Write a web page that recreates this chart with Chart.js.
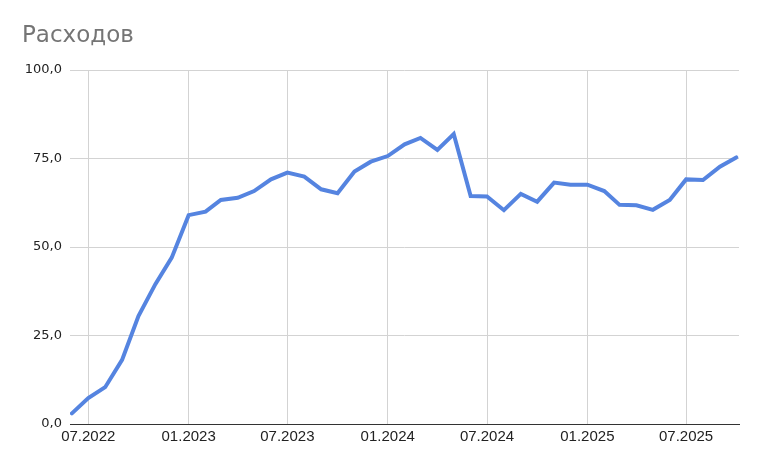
<!DOCTYPE html>
<html>
<head>
<meta charset="utf-8">
<script src="https://cdn.jsdelivr.net/npm/chart.js@4.4.1/dist/chart.umd.min.js"></script>
<style>
  html, body { margin: 0; padding: 0; background: #fff; }
  #c { display: block; }
</style>
</head>
<body>
<canvas id="c" width="758" height="453"></canvas>
<script>
const chartTitle = "Расходов";
const months = [
  "06.2022","07.2022","08.2022","09.2022","10.2022","11.2022","12.2022",
  "01.2023","02.2023","03.2023","04.2023","05.2023","06.2023","07.2023","08.2023","09.2023","10.2023","11.2023","12.2023",
  "01.2024","02.2024","03.2024","04.2024","05.2024","06.2024","07.2024","08.2024","09.2024","10.2024","11.2024","12.2024",
  "01.2025","02.2025","03.2025","04.2025","05.2025","06.2025","07.2025","08.2025","09.2025","10.2025"
];
const expenses = [
  3.0, 7.3, 10.4, 18.1, 30.5, 39.5, 47.0,
  59.0, 60.0, 63.3, 63.9, 65.8, 69.1, 71.0, 69.9, 66.3, 65.2, 71.3, 74.1,
  75.7, 79.0, 80.8, 77.4, 81.9, 64.4, 64.3, 60.4, 65.0, 62.8, 68.2, 67.6,
  67.6, 65.8, 61.9, 61.8, 60.5, 63.3, 69.1, 68.9, 72.7, 75.3
];
const xTickLabels = ["07.2022","01.2023","07.2023","01.2024","07.2024","01.2025","07.2025"];
const yTicks = [0, 25, 50, 75, 100];

const FONT = '"DejaVu Sans", Verdana, sans-serif';
const XFONT = '"Liberation Sans", Arial, sans-serif';
const startMs = Date.UTC(2022, 5, 1);
function dayOf(label) {
  const parts = label.split(".");
  return (Date.UTC(+parts[1], +parts[0] - 1, 1) - startMs) / 86400000;
}
const points = months.map((m, i) => ({ x: dayOf(m), y: expenses[i] }));

const titlePlugin = {
  id: "sheetTitle",
  afterDraw(chart) {
    const ctx = chart.ctx;
    ctx.save();
    ctx.font = '23px ' + FONT;
    ctx.fillStyle = "#757575";
    ctx.textBaseline = "alphabetic";
    ctx.textAlign = "left";
    ctx.fillText(chartTitle, 22, 42);
    ctx.restore();
  }
};

new Chart(document.getElementById("c"), {
  type: "line",
  data: {
    datasets: [{
      label: chartTitle,
      data: points,
      borderColor: "#5584e0",
      backgroundColor: "#5584e0",
      borderWidth: 4,
      pointRadius: 0,
      tension: 0,
      borderJoinStyle: "miter",
      borderCapStyle: "round"
    }]
  },
  options: {
    responsive: false,
    animation: false,
    layout: { padding: { left: 0, right: 19, top: 70, bottom: 0 } },
    plugins: {
      legend: { display: false },
      title: { display: false },
      tooltip: { enabled: false }
    },
    scales: {
      x: {
        type: "linear",
        min: dayOf(months[0]) - 3.5,
        max: dayOf(months[months.length - 1]) + 5,
        afterFit(scale) { scale.height = 29; },
        afterBuildTicks(scale) { scale.ticks = xTickLabels.map(l => ({ value: dayOf(l) })); },
        border: { display: true, color: "#333333", width: 1 },
        grid: { drawTicks: false, color: "#d3d3d3", lineWidth: 1 },
        ticks: {
          autoSkip: false,
          maxRotation: 0,
          padding: 4,
          color: "#222222",
          font: { family: XFONT, size: 15 },
          callback(value, index) { return xTickLabels[index]; }
        }
      },
      y: {
        min: 0,
        max: 100,
        afterFit(scale) { scale.width = 70; },
        afterBuildTicks(scale) { scale.ticks = yTicks.map(v => ({ value: v })); },
        border: { display: false },
        grid: { drawTicks: false, color: "#d3d3d3", lineWidth: 1 },
        ticks: {
          padding: 8,
          color: "#222222",
          font: { family: FONT, size: 13 },
          callback(v) { return v.toFixed(1).replace(".", ","); }
        }
      }
    }
  },
  plugins: [titlePlugin]
});
</script>
</body>
</html>
